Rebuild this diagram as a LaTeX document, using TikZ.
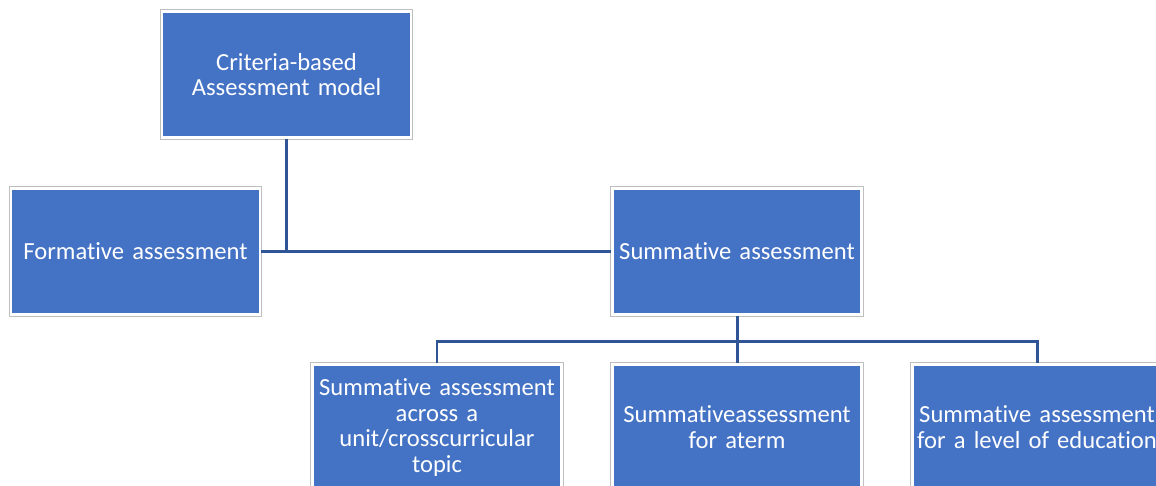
\documentclass[tikz,border=0pt]{standalone}
\usepackage{fontspec}
\setmainfont{Carlito}[Ligatures={NoCommon}]
\usetikzlibrary{positioning}
\definecolor{boxblue}{HTML}{4472C4}
\definecolor{lineblue}{HTML}{2F5597}

\begin{document}
\begin{tikzpicture}[x=0.02cm,y=-0.02cm,
                    main node/.style={rectangle,fill=boxblue,draw=white,line width=1.2pt,
                      preaction={draw=black!25,line width=2.6pt},
                      minimum width=4.98cm,minimum height=2.52cm,inner sep=0pt,
                      text width=4.9cm,align=center,text=white,
                      font=\fontsize{14}{14.7}\selectfont},
                    link/.style={draw=lineblue,line width=1.7pt}]

%Page frame
 \useasboundingbox (0,0) rectangle (1156,486);
 \clip (0,0) rectangle (1156,486);

%Boxes
 \node[main node] (Model) at (286.5,74.5) {Criteria-based\\Assessment model};
 \node[main node] (Formative) at (135.5,251.5) {Formative assessment};
 \node[main node] (Summative) at (737,251.5) {Summative assessment};

 \node[main node] (Unit) at (437,427.5) {Summative assessment\\across a\\unit/crosscurricular\\topic};
 \node[main node] (Term) at (737,427.5) {Summativeassessment\\for aterm};
 \node[main node] (Level) at (1037,427.5) {Summative assessment\\for a level of education};

%Connectors
 \draw[link] (Model.south) -- (Model.south |- Formative.east);
 \draw[link] (Formative.east) -- (Summative.west);

 \draw[link] (Summative.south) -- ++(0,26) coordinate (Split);
 \draw[link] (Unit.north) |- (Split) -| (Level.north);
 \draw[link] (Split) -- (Term.north);

\end{tikzpicture}
\end{document}
